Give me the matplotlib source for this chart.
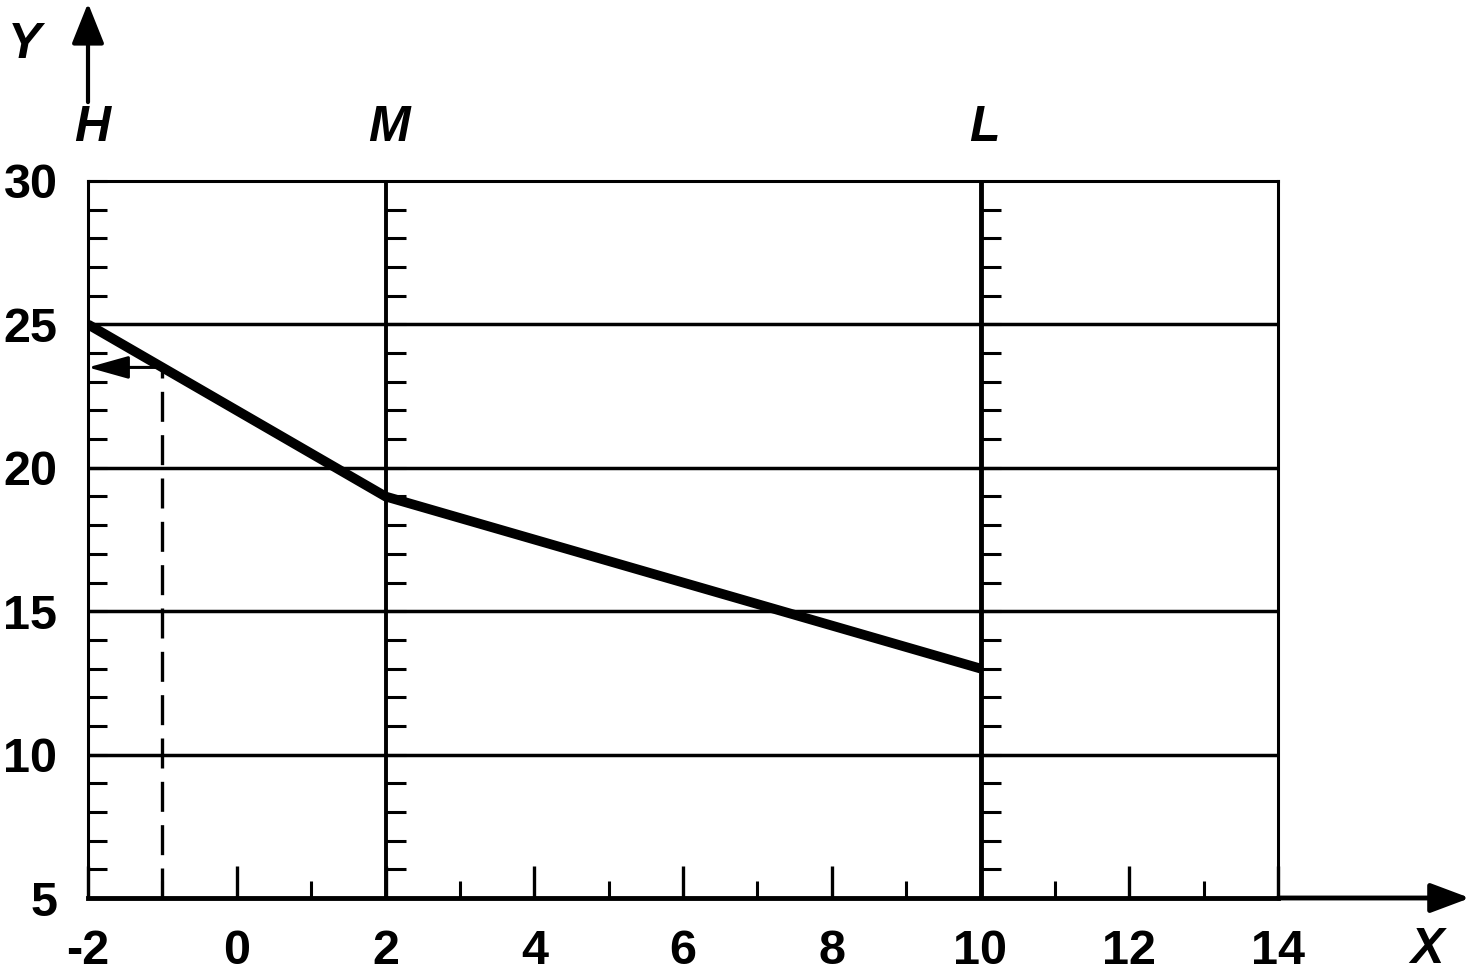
import numpy as np
import matplotlib
matplotlib.use("Agg")
import matplotlib.pyplot as plt

plt.rcParams['font.family'] = ['Liberation Sans', 'DejaVu Sans']
plt.rcParams['axes.unicode_minus'] = False

# characteristic: three levels and the straight segments between them
level_names = ['H', 'M', 'L']
level_x = [-2, 2, 10]
level_y = [25, 19, 13]

# grid and ticks
grid_y = [10, 15, 20, 25]
x_ticks = [-2, 0, 2, 4, 6, 8, 10, 12, 14]
y_ticks = [5, 10, 15, 20, 25, 30]

# read-off example: x = -1 gives y = 23.5
read_x = -1
read_y = 23.5

XMIN, XMAX = -2, 14
YMIN, YMAX = 5, 30


def draw_frame(ax):

    ax.set_xlim(XMIN, XMAX)
    ax.set_ylim(YMIN, YMAX)
    for side in ['left', 'top', 'right']:
        ax.spines[side].set_linewidth(2.2)
    ax.spines['bottom'].set_linewidth(3.5)

    ax.set_xticks(x_ticks)
    ax.set_xticks(np.arange(XMIN + 1, XMAX, 2), minor=True)
    ax.set_yticks(y_ticks)
    ax.set_yticks(np.arange(YMIN, YMAX + 1), minor=True)

    ax.tick_params(axis='x', which='major', direction='in', length=23, width=2.4, pad=22, labelsize=35)
    ax.tick_params(axis='x', which='minor', direction='in', length=12, width=2.2)
    ax.tick_params(axis='y', which='both', direction='in', length=14, width=2.2, pad=22, labelsize=35)
    for lab in ax.get_xticklabels() + ax.get_yticklabels():
        lab.set_fontweight('bold')

    # horizontal grid
    for g in grid_y:
        ax.axhline(g, color='k', lw=2.5, zorder=1)

    # vertical lines at M and L with their own small ticks
    tick_len = 0.27
    minor_y = np.arange(YMIN + 1, YMAX)
    for lx in level_x[1:]:
        ax.axvline(lx, color='k', lw=3.5 if lx == level_x[-1] else 2.8, zorder=1)
        ax.hlines(minor_y, lx, lx + tick_len, color='k', lw=2.2, zorder=1)


def draw_annotations(ax):

    arrow = dict(color='k', shrinkA=0, shrinkB=0)

    # axis arrows beyond the frame
    ax.annotate('', xy=(XMIN, 36.2), xytext=(XMIN, 32.75), annotation_clip=False,
                arrowprops=dict(arrowstyle='-|>,head_length=1.25,head_width=0.5',
                                mutation_scale=20, lw=3, **arrow))
    ax.annotate('', xy=(16.58, YMIN), xytext=(XMAX, YMIN), annotation_clip=False,
                arrowprops=dict(arrowstyle='-|>,head_length=1.2,head_width=0.45',
                                mutation_scale=20, lw=3.5, **arrow))

    ax.text(-2.85, 34.75, 'Y', fontsize=36, style='italic', fontweight='bold',
            ha='center', va='center', clip_on=False)
    ax.text(16.0, 3.2, 'X', fontsize=36, style='italic', fontweight='bold',
            ha='center', va='center', clip_on=False)

    for name, lx in zip(level_names, level_x):
        ax.text(lx + 0.05, 31.85, name, fontsize=36, style='italic', fontweight='bold',
                ha='center', va='center', clip_on=False)

    # read-off: dashed up from the x axis, arrow across to the y axis
    ax.plot([read_x, read_x], [YMIN, read_y], color='k', lw=2.4, dashes=(9, 4), zorder=2)
    ax.annotate('', xy=(XMIN, read_y), xytext=(read_x, read_y),
                arrowprops=dict(arrowstyle='-|>,head_length=1.25,head_width=0.35',
                                mutation_scale=20, lw=2.2, **arrow))


fig = plt.figure(figsize=(14.76, 9.74), dpi=100)
ax = fig.add_axes([88 / 1476, 76 / 974, 1190 / 1476, 717 / 974])

draw_frame(ax)
ax.plot(level_x, level_y, color='k', lw=7, solid_capstyle='butt', solid_joinstyle='miter', zorder=3)
draw_annotations(ax)

fig.savefig('out.png', dpi=100)
